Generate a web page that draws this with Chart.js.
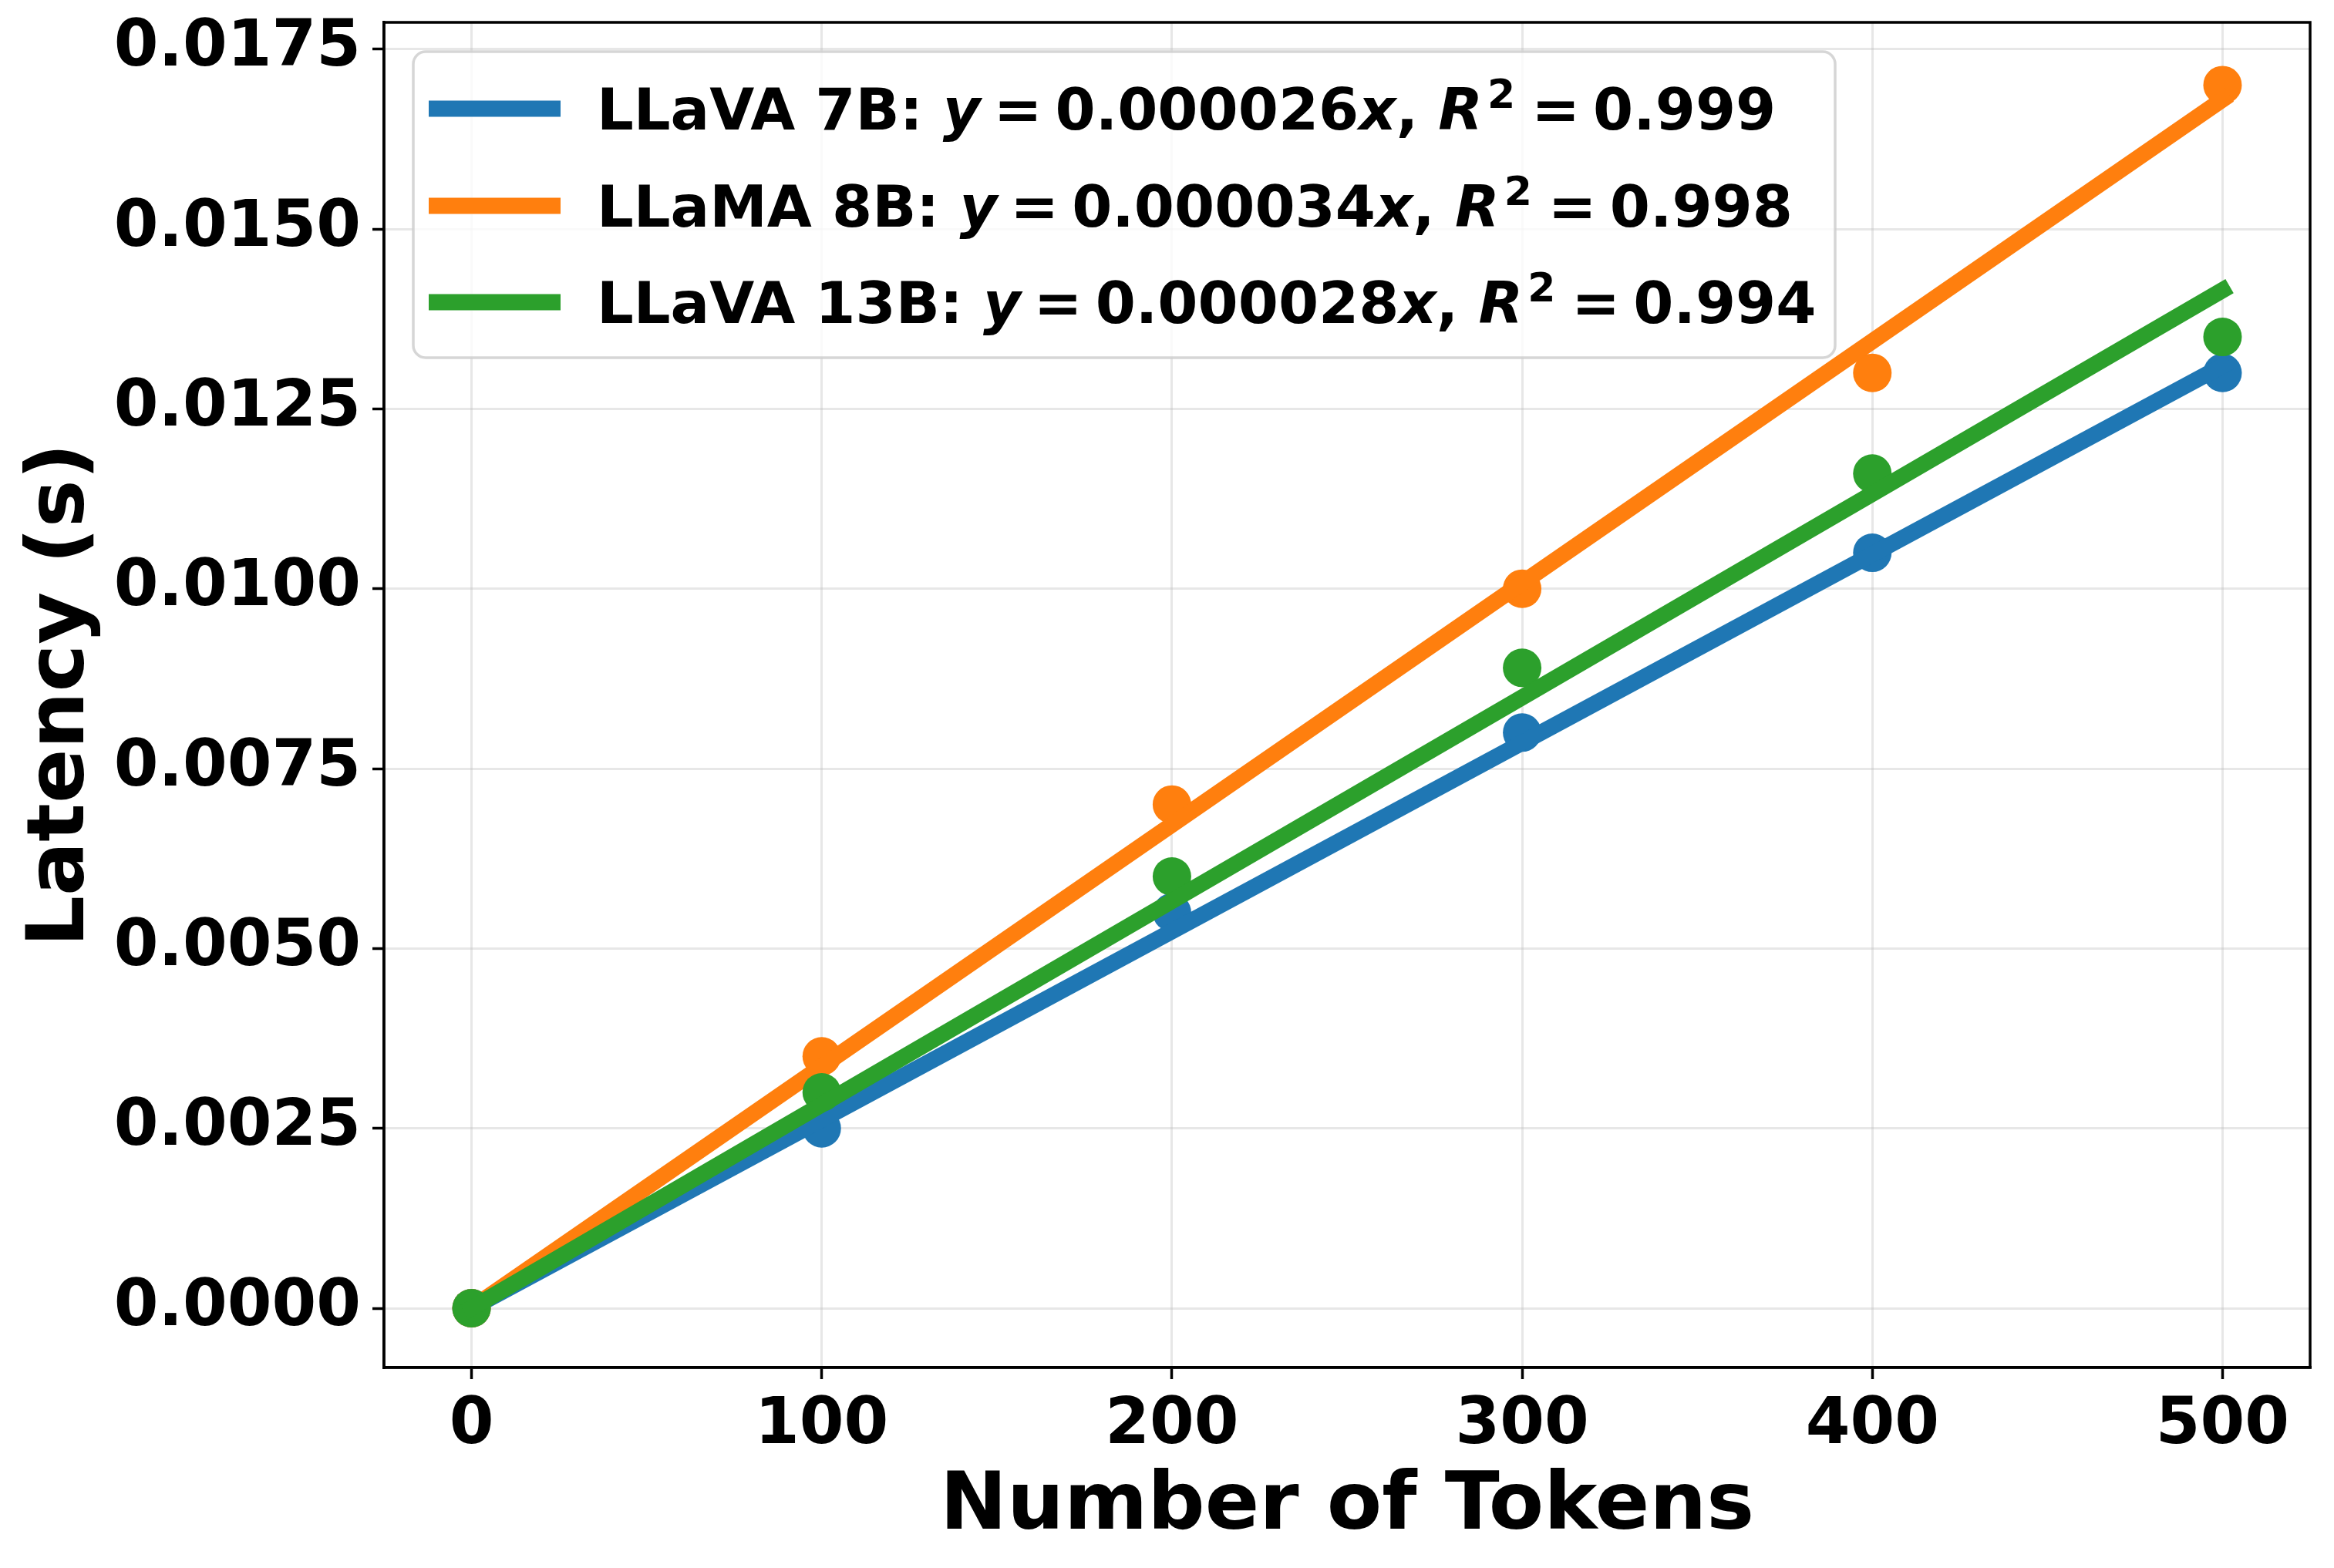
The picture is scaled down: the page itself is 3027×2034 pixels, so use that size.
<!DOCTYPE html>
<html>
<head>
<meta charset="utf-8">
<script src="https://cdn.jsdelivr.net/npm/chart.js@4.4.1/dist/chart.umd.min.js"></script>
<style>
  html, body { margin: 0; padding: 0; background: #ffffff; }
  #wrap { width: 3027px; height: 2034px; }
</style>
</head>
<body>
<div id="wrap"><canvas id="chart" width="3027" height="2034"></canvas></div>
<script>
// data
const tokens = [0, 100, 200, 300, 400, 500];
const latencyLLaVA7B = [0, 0.0025, 0.0055, 0.0080, 0.0105, 0.0130];
const latencyLLaMA8B = [0, 0.0035, 0.0070, 0.0100, 0.0130, 0.0170];
const latencyLLaVA13B = [0, 0.0030, 0.0060, 0.0089, 0.0116, 0.0135];

// fitted lines (end points)
const fitX = [0, 500];
const fitLLaVA7B = [0, 0.0131];
const fitLLaMA8B = [0, 0.0168];
const fitLLaVA13B = [0, 0.01415];

const modelNames = ['LLaVA 7B', 'LLaMA 8B', 'LLaVA 13B'];
const slopeLabels = ['0.000026', '0.000034', '0.000028'];
const r2Labels = ['0.999', '0.998', '0.994'];
const colors = ['#1f77b4', '#ff7f0e', '#2ca02c'];

const xTicks = [0, 100, 200, 300, 400, 500];
const yTicks = [0, 0.0025, 0.005, 0.0075, 0.01, 0.0125, 0.015, 0.0175];

const FONT = "'DejaVu Sans', 'Liberation Sans', sans-serif";

const toPoints = (xs, ys) => xs.map((x, i) => ({ x: x, y: ys[i] }));

const pointSets = [latencyLLaVA7B, latencyLLaMA8B, latencyLLaVA13B];
const fitSets = [fitLLaVA7B, fitLLaMA8B, fitLLaVA13B];

const datasets = [];
pointSets.forEach((vals, i) => {
  datasets.push({
    label: modelNames[i] + ' data',
    data: toPoints(tokens, vals),
    showLine: false,
    pointRadius: 25,
    pointHoverRadius: 25,
    pointBorderWidth: 0,
    pointBackgroundColor: colors[i],
    backgroundColor: colors[i],
    order: 6 - i * 2
  });
  datasets.push({
    label: modelNames[i],
    data: toPoints(fitX, fitSets[i]),
    showLine: true,
    pointRadius: 0,
    borderWidth: 21,
    borderColor: colors[i],
    borderCapStyle: 'square',
    order: 5 - i * 2
  });
});

// top/right spines + matplotlib-like legend with mathtext pieces
const frameAndLegend = {
  id: 'frameAndLegend',
  afterDatasetsDraw(chart) {
    const ctx = chart.ctx;
    const a = chart.chartArea;
    ctx.save();
    ctx.strokeStyle = '#000000';
    ctx.lineWidth = 3.5;
    ctx.strokeRect(a.left, a.top, a.right - a.left, a.bottom - a.top);

    const bx = a.left + 38, by = a.top + 38, bw = 1844, bh = 397;
    ctx.beginPath();
    ctx.roundRect(bx, by, bw, bh, 16);
    ctx.fillStyle = 'rgba(255,255,255,0.8)';
    ctx.fill();
    ctx.strokeStyle = 'rgba(204,204,204,0.8)';
    ctx.lineWidth = 3.5;
    ctx.stroke();

    const rowY = [74, 200, 325];
    const B = 'bold 75px ' + FONT;
    const BI = 'italic bold 75px ' + FONT;
    const SUP = 'bold 52px ' + FONT;
    const g = 17;
    ctx.textBaseline = 'alphabetic';
    ctx.textAlign = 'left';
    rowY.forEach((ry, i) => {
      const cy = by + ry;
      ctx.strokeStyle = colors[i];
      ctx.lineWidth = 21;
      ctx.lineCap = 'butt';
      ctx.beginPath();
      ctx.moveTo(bx + 20, cy);
      ctx.lineTo(bx + 191, cy);
      ctx.stroke();

      const pieces = [
        { text: modelNames[i] + ': ', font: B },
        { text: 'y', font: BI, gap: g },
        { text: '=', font: B, gap: g },
        { text: slopeLabels[i], font: B },
        { text: 'x', font: BI },
        { text: ', ', font: B },
        { text: 'R', font: BI, gap: 6 },
        { text: '2', font: SUP, rise: 28, gap: g + 4 },
        { text: '=', font: B, gap: g },
        { text: r2Labels[i], font: B }
      ];
      let x = bx + 238;
      const base = cy + 27;
      ctx.fillStyle = '#000000';
      pieces.forEach(p => {
        ctx.font = p.font;
        ctx.fillText(p.text, x, base - (p.rise || 0));
        x += ctx.measureText(p.text).width + (p.gap || 0);
      });
    });
    ctx.restore();
  }
};

new Chart(document.getElementById('chart').getContext('2d'), {
  type: 'scatter',
  data: { datasets: datasets },
  options: {
    responsive: false,
    animation: false,
    devicePixelRatio: 1,
    layout: { padding: { left: 0, right: 31, top: 29, bottom: 0 } },
    plugins: {
      legend: { display: false },
      tooltip: { enabled: false }
    },
    scales: {
      x: {
        type: 'linear',
        min: -25,
        max: 525,
        afterFit: s => {
          s.height = 260;
          s.paddingLeft = 0;
          s.paddingRight = 0;
        },
        afterBuildTicks: s => { s.ticks = xTicks.map(v => ({ value: v })); },
        grid: {
          color: 'rgba(176,176,176,0.3)',
          lineWidth: 3,
          drawTicks: true,
          tickLength: 15,
          tickColor: '#000000',
          tickWidth: 3.5
        },
        border: { display: true, color: '#000000', width: 3.5 },
        ticks: {
          color: '#000000',
          font: { family: FONT, size: 83, weight: 'bold' },
          padding: 12,
          maxRotation: 0,
          autoSkip: false,
          callback: v => String(v)
        },
        title: {
          display: true,
          text: 'Number of Tokens',
          color: '#000000',
          font: { family: FONT, size: 104, weight: 'bold', lineHeight: 1.2 },
          padding: { top: 0, bottom: 16 }
        }
      },
      y: {
        type: 'linear',
        min: -0.000825,
        max: 0.017872,
        afterFit: s => {
          s.width = 498;
          s.paddingTop = 0;
          s.paddingBottom = 0;
        },
        afterBuildTicks: s => { s.ticks = yTicks.map(v => ({ value: v })); },
        grid: {
          color: 'rgba(176,176,176,0.3)',
          lineWidth: 3,
          drawTicks: true,
          tickLength: 15,
          tickColor: '#000000',
          tickWidth: 3.5
        },
        border: { display: true, color: '#000000', width: 3.5 },
        ticks: {
          color: '#000000',
          font: { family: FONT, size: 83, weight: 'bold' },
          padding: 15,
          autoSkip: false,
          callback: v => v.toFixed(4)
        },
        title: {
          display: true,
          text: 'Latency (s)',
          color: '#000000',
          font: { family: FONT, size: 104, weight: 'bold', lineHeight: 1.2 },
          padding: { top: 19, bottom: 0 }
        }
      }
    }
  },
  plugins: [frameAndLegend]
});
</script>
</body>
</html>
